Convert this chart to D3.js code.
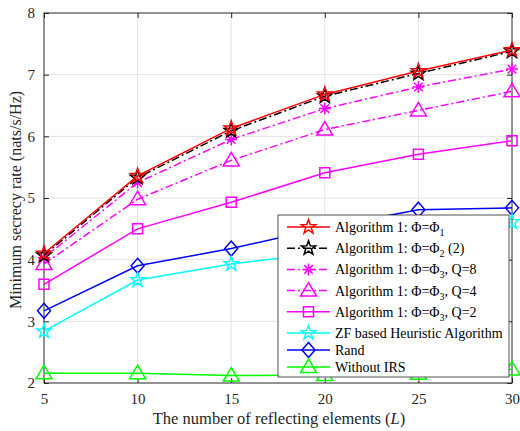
<!DOCTYPE html>
<html><head><meta charset="utf-8">
<script src="https://cdn.jsdelivr.net/npm/d3@7"></script>
<style>body{margin:0;background:#fff}svg{display:block}text{font-family:"Liberation Serif","Times New Roman",serif}</style>
</head><body><svg id="c" width="520" height="431"></svg>
<script>
const L = [5, 10, 15, 20, 25, 30];
const alg1Phi1 = [4.10, 5.36, 6.13, 6.68, 7.06, 7.40];
const alg1Phi2 = [4.07, 5.33, 6.09, 6.65, 7.02, 7.38];
const alg1Q8 = [4.03, 5.25, 5.95, 6.45, 6.80, 7.09];
const alg1Q4 = [3.93, 4.98, 5.61, 6.11, 6.42, 6.73];
const alg1Q2 = [3.60, 4.50, 4.93, 5.41, 5.71, 5.93];
const zfHeur = [2.84, 3.67, 3.93, 4.11, 4.40, 4.61];
const randIRS = [3.17, 3.90, 4.18, 4.52, 4.81, 4.84];
const withoutIRS = [2.16, 2.16, 2.12, 2.13, 2.15, 2.22];
const xTicks = [5, 10, 15, 20, 25, 30];
const yTicks = [2, 3, 4, 5, 6, 7, 8];
const legendLabels = [
  ["Algorithm 1: \u03A6=\u03A6", "1", ""],
  ["Algorithm 1: \u03A6=\u03A6", "2", " (2)"],
  ["Algorithm 1: \u03A6=\u03A6", "3", ", Q=8"],
  ["Algorithm 1: \u03A6=\u03A6", "3", ", Q=4"],
  ["Algorithm 1: \u03A6=\u03A6", "3", ", Q=2"],
  ["ZF based Heuristic Algorithm", "", ""],
  ["Rand", "", ""],
  ["Without IRS", "", ""]
];

const series = [
  {v: alg1Phi1, c: "#ff0000", dash: null, m: "star"},
  {v: alg1Phi2, c: "#000000", dash: "8,3,2,3", m: "star"},
  {v: alg1Q8, c: "#ff00ff", dash: "8,3,2,3", m: "asterisk"},
  {v: alg1Q4, c: "#ff00ff", dash: "8,3,2,3", m: "triangle"},
  {v: alg1Q2, c: "#ff00ff", dash: null, m: "square"},
  {v: zfHeur, c: "#00ffff", dash: null, m: "star"},
  {v: randIRS, c: "#0000ff", dash: null, m: "diamond"},
  {v: withoutIRS, c: "#00ff00", dash: null, m: "triangle"}
];

const svg = d3.select("#c");
const pLeft = 44, pRight = 512, pTop = 13, pBottom = 383;
const x = d3.scaleLinear().domain([5, 30]).range([pLeft, pRight]);
const y = d3.scaleLinear().domain([2, 8]).range([pBottom, pTop]);

// grid
const g = svg.append("g");
g.selectAll(".gx").data(xTicks.slice(1, -1)).join("line")
  .attr("x1", d => x(d)).attr("x2", d => x(d)).attr("y1", pTop).attr("y2", pBottom)
  .attr("stroke", "#e3e3e3").attr("stroke-width", 1);
g.selectAll(".gy").data(yTicks.slice(1, -1)).join("line")
  .attr("y1", d => y(d)).attr("y2", d => y(d)).attr("x1", pLeft).attr("x2", pRight)
  .attr("stroke", "#e3e3e3").attr("stroke-width", 1);

// axes
const axB = d3.axisBottom(x).tickValues(xTicks).tickSize(-5).tickPadding(10).tickFormat(d3.format("d"));
const axT = d3.axisTop(x).tickValues(xTicks).tickSize(-5).tickFormat("");
const axL = d3.axisLeft(y).tickValues(yTicks).tickSize(-5).tickPadding(9).tickFormat(d3.format("d"));
const axR = d3.axisRight(y).tickValues(yTicks).tickSize(-5).tickFormat("");
function style(sel) {
  sel.select(".domain").remove();
  sel.selectAll(".tick line").attr("stroke", "#262626");
  sel.selectAll(".tick text").attr("fill", "#262626").style("font-size", "15px").style("font-family", "Liberation Serif");
}
svg.append("g").attr("transform", `translate(0,${pBottom})`).call(axB).call(style);
svg.append("g").attr("transform", `translate(0,${pTop})`).call(axT).call(style);
svg.append("g").attr("transform", `translate(${pLeft},0)`).call(axL).call(style);
svg.append("g").attr("transform", `translate(${pRight},0)`).call(axR).call(style);
svg.append("rect").attr("x", pLeft).attr("y", pTop).attr("width", pRight - pLeft).attr("height", pBottom - pTop)
  .attr("fill", "none").attr("stroke", "#262626").attr("stroke-width", 1);

// markers
function pentagram(R) {
  const r = R * 0.40, pts = [];
  for (let i = 0; i < 10; i++) {
    const a = -Math.PI / 2 + i * Math.PI / 5, rr = i % 2 ? r : R;
    pts.push([rr * Math.cos(a), rr * Math.sin(a)]);
  }
  return "M" + pts.map(p => p.map(v => v.toFixed(2)).join(",")).join("L") + "Z";
}
function markerPath(m) {
  if (m === "star") return pentagram(7.5);
  if (m === "triangle") return "M0,-8L8,5.5L-8,5.5Z";
  if (m === "square") return "M-5,-5L5,-5L5,5L-5,5Z";
  if (m === "diamond") return "M0,-7.5L6.5,0L0,7.5L-6.5,0Z";
  if (m === "asterisk") return "M-6,0L6,0M0,-6L0,6M-4.3,-4.3L4.3,4.3M-4.3,4.3L4.3,-4.3";
}

const line = d3.line().x((d, i) => x(L[i])).y(d => y(d));
const plot = svg.append("g");
series.slice().reverse().forEach(s => {
  plot.append("path").attr("d", line(s.v)).attr("fill", "none").attr("stroke", s.c)
    .attr("stroke-width", 1.5).attr("stroke-dasharray", s.dash);
  plot.selectAll(null).data(s.v).join("path")
    .attr("transform", (d, i) => `translate(${x(L[i])},${y(d)})`)
    .attr("d", markerPath(s.m)).attr("fill", "none").attr("stroke", s.c).attr("stroke-width", 1.5);
});

// legend
const lg = svg.append("g");
lg.append("rect").attr("x", 278).attr("y", 215).attr("width", 231).attr("height", 162)
  .attr("fill", "#fff").attr("stroke", "#262626").attr("stroke-width", 0.8);
let ly = 227;
series.forEach((s, i) => {
  const lab = legendLabels[i];
  if (i > 0) ly += legendLabels[i - 1][1] ? 21.2 : 17;
  lg.append("line").attr("x1", 287).attr("x2", 330).attr("y1", ly).attr("y2", ly)
    .attr("stroke", s.c).attr("stroke-width", 1.5).attr("stroke-dasharray", s.dash);
  lg.append("path").attr("transform", `translate(308.5,${ly})`).attr("d", markerPath(s.m))
    .attr("fill", "none").attr("stroke", s.c).attr("stroke-width", 1.5);
  const t = lg.append("text").attr("x", 335).attr("y", ly + 5).attr("fill", "#000").style("font-size", "14px");
  t.append("tspan").text(lab[0]);
  if (lab[1]) {
    t.append("tspan").attr("dy", 4).style("font-size", "10px").text(lab[1]);
    t.append("tspan").attr("dy", -4).text(lab[2]);
  }
});

// axis labels
svg.append("text").attr("x", 279).attr("y", 424).attr("text-anchor", "middle").attr("fill", "#262626")
  .style("font-size", "16.5px")
  .call(t => { t.append("tspan").text("The number of reflecting elements ("); t.append("tspan").style("font-style", "italic").text("L"); t.append("tspan").text(")"); });
svg.append("text").attr("transform", "translate(21,200) rotate(-90)").attr("text-anchor", "middle").attr("fill", "#262626")
  .style("font-size", "16px").text("Minimum secrecy rate (nats/s/Hz)");
</script></body></html>
